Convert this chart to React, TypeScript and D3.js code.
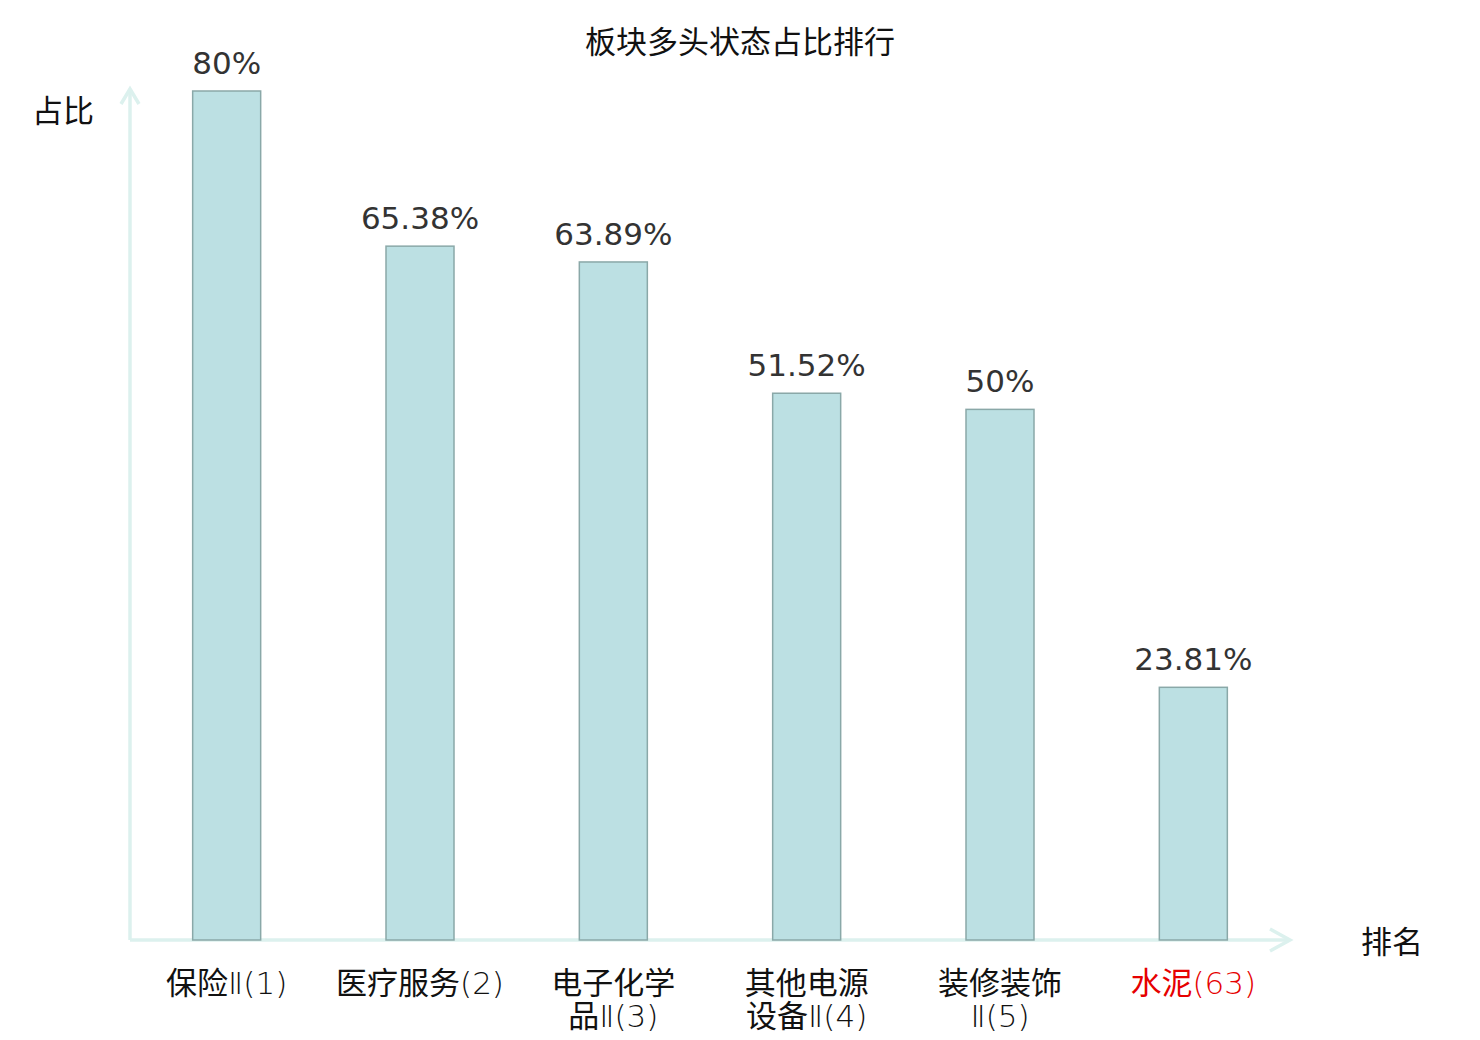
import React, { useEffect, useRef } from 'react';
import * as d3 from 'd3';

const categories = ['保险Ⅱ(1)', '医疗服务(2)', '电子化学品Ⅱ(3)', '其他电源设备Ⅱ(4)', '装修装饰Ⅱ(5)', '水泥(63)'];
const values = [80, 65.38, 63.89, 51.52, 50, 23.81];
const highlight = ['水泥(63)'];

const App: React.FC = () => {
  const svgRef = useRef<SVGSVGElement>(null);

  useEffect(() => {
    if (!svgRef.current) return;
    const svg = d3.select(svgRef.current);
    svg.selectAll('*').remove();

    const W = 1480;
    const x0 = 130, x1 = 1290, yBase = 940;

    const x = d3.scaleBand<string>().domain(categories).range([x0, x1]).paddingInner(0).paddingOuter(0);
    const y = d3.scaleLinear().domain([0, 80]).range([yBase, 91]);
    const barW = 68;

    const axisColor = '#dcf1ee';
    const font = '"DejaVu Sans", "Noto Sans CJK SC", sans-serif';
    const cjk = '"Noto Sans CJK SC", sans-serif';
    const fs = 31;

    // title
    svg.append('text')
      .attr('x', W / 2).attr('y', 53)
      .attr('text-anchor', 'middle')
      .attr('font-family', cjk)
      .attr('font-size', fs)
      .attr('fill', '#111')
      .text('板块多头状态占比排行');

    // axes with arrows
    svg.append('line')
      .attr('x1', x0).attr('y1', yBase).attr('x2', x0).attr('y2', 89)
      .attr('stroke', axisColor).attr('stroke-width', 3.5);
    svg.append('path')
      .attr('d', `M${x0 - 9},${104} L${x0},${89} L${x0 + 9},${104}`)
      .attr('fill', 'none').attr('stroke', axisColor).attr('stroke-width', 3.5);
    svg.append('line')
      .attr('x1', x0).attr('y1', yBase).attr('x2', x1).attr('y2', yBase)
      .attr('stroke', axisColor).attr('stroke-width', 3.5);
    svg.append('path')
      .attr('d', `M${x1 - 20},${yBase - 11} L${x1},${yBase} L${x1 - 20},${yBase + 11}`)
      .attr('fill', 'none').attr('stroke', axisColor).attr('stroke-width', 3.5);

    svg.append('text')
      .attr('x', 63).attr('y', 122)
      .attr('text-anchor', 'middle')
      .attr('font-family', cjk).attr('font-size', fs).attr('fill', '#111')
      .text('占比');
    svg.append('text')
      .attr('x', 1392).attr('y', 953)
      .attr('text-anchor', 'middle')
      .attr('font-family', cjk).attr('font-size', fs).attr('fill', '#111')
      .text('排名');

    const data = categories.map((c, i) => ({ c, v: values[i] }));

    svg.selectAll('rect.bar')
      .data(data)
      .join('rect')
      .attr('class', 'bar')
      .attr('x', d => x(d.c)! + x.bandwidth() / 2 - barW / 2)
      .attr('y', d => y(d.v))
      .attr('width', barW)
      .attr('height', d => yBase - y(d.v))
      .attr('fill', '#bce0e3')
      .attr('stroke', '#8aa8a8')
      .attr('stroke-width', 1.5);

    svg.selectAll('text.val')
      .data(data)
      .join('text')
      .attr('class', 'val')
      .attr('x', d => x(d.c)! + x.bandwidth() / 2)
      .attr('y', d => y(d.v) - 17)
      .attr('text-anchor', 'middle')
      .attr('font-family', font)
      .attr('font-size', fs)
      .attr('fill', '#333')
      .text(d => `${d.v}%`);

    // category labels, wrapped after 4 chars when long;
    // CJK runs in regular weight, the rest thin
    const isCjk = (ch: string) => /[\u4e00-\u9fff]/.test(ch);
    data.forEach(d => {
      const lines = d.c.length > 7 ? [d.c.slice(0, 4), d.c.slice(4)] : [d.c];
      const cx = x(d.c)! + x.bandwidth() / 2;
      lines.forEach((l, i) => {
        const t = svg.append('text')
          .attr('x', cx)
          .attr('y', 994 + i * 33)
          .attr('text-anchor', 'middle')
          .attr('font-family', font)
          .attr('font-size', fs)
          .attr('fill', highlight.includes(d.c) ? '#e60000' : '#111');
        const runs: string[] = [];
        for (const ch of l) {
          const last = runs[runs.length - 1];
          if (last && isCjk(last[0]) === isCjk(ch)) runs[runs.length - 1] = last + ch;
          else runs.push(ch);
        }
        runs.forEach(r => {
          t.append('tspan')
            .attr('font-weight', isCjk(r[0]) ? 400 : 200)
            .text(r);
        });
      });
    });
  }, []);

  return <svg ref={svgRef} width={1480} height={1040} style={{ display: 'block', margin: -8 }}></svg>;
};

export default App;
